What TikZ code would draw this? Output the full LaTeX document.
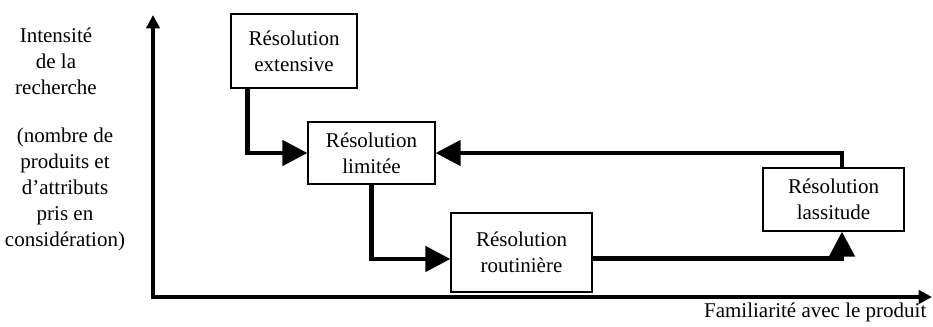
\documentclass[tikz,border=0pt]{standalone}
\usepackage{fontspec}
\setmainfont{Liberation Serif}
\usetikzlibrary{arrows.meta,calc}

\begin{document}
\begin{tikzpicture}[x=0.75pt, y=-0.75pt,
        font=\fontsize{15.75}{19.5}\selectfont,
        etat/.style={draw, line width=0.9pt, align=center, inner sep=0pt},
        fleche/.style={line width=3.4pt, -{Triangle[length=18.75pt,width=18.75pt]}},
        axe/.style={line width=3pt, {Triangle[length=10pt,width=10pt]}-{Triangle[length=10pt,width=10pt]}}]

        \useasboundingbox (0,0) rectangle (933,326);

        % axes
        \coordinate (ytop) at (153,15);
        \coordinate (O) at (153,297);
        \coordinate (xend) at (932,297);
        \draw [axe] (ytop) -- (O) -- (xend);

        \node [align=center] (intensite) at (56,61) {Intensité\\de la\\recherche};
        \node [align=center] (nombre) at (65,189)
          {(nombre de\\produits et\\d’attributs\\pris en\\considération)};
        \node [anchor=east] (familiarite) at (931,312) {Familiarité avec le produit};

        % etats de resolution
        \node [etat, minimum width=94.5pt, minimum height=55.5pt] (ext) at (294,51)
          {Résolution\\extensive};
        \node [etat, minimum width=95.25pt, minimum height=46.5pt] (lim) at (371.5,153)
          {Résolution\\limitée};
        \node [etat, minimum width=105.75pt, minimum height=59.25pt] (rout) at (521.5,252.5)
          {Résolution\\routinière};
        \node [etat, minimum width=105.75pt, minimum height=47.25pt] (lass) at (833.5,199.5)
          {Résolution\\lassitude};

        % passages
        \draw [fleche] ($(ext.south west)+(17,0)$) |- (lim.west);
        \draw [fleche] (lim.south) |- ($(rout.west)+(0,6.5)$);
        \draw [fleche] ($(rout.east)+(0,6)$) -| ($(lass.south)+(8.5,0)$);
        \draw [fleche] ($(lass.north)+(8.5,0)$) |- (lim.east);
\end{tikzpicture}
\end{document}
